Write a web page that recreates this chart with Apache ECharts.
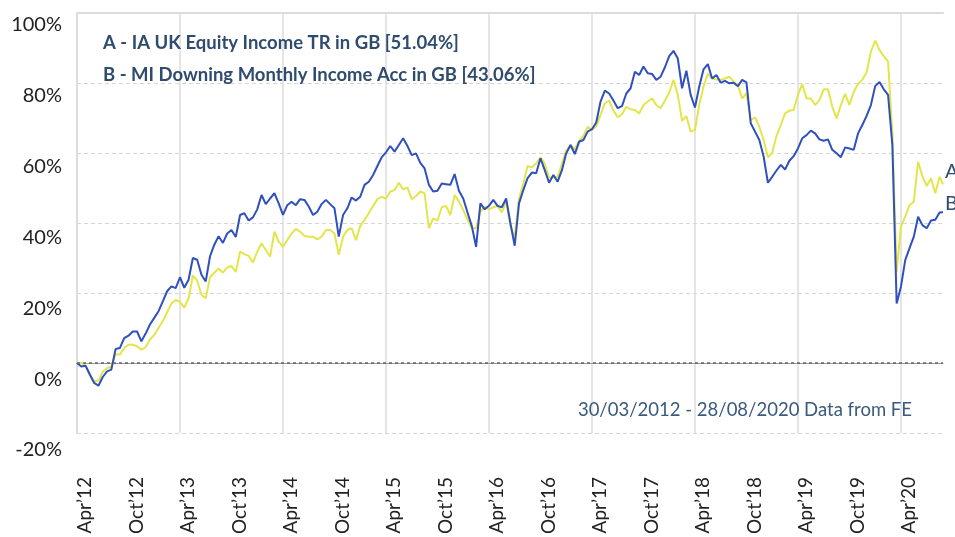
<!DOCTYPE html>
<html>
<head>
<meta charset="utf-8">
<style>
  html, body { margin: 0; padding: 0; background: #fff; }
  #chart { width: 955px; height: 537px; }
</style>
<script src="https://cdn.jsdelivr.net/npm/echarts@6/dist/echarts.min.js"></script>
</head>
<body>
<div id="chart"></div>
<script>
var seriesNames = ['A - IA UK Equity Income TR in GB [51.04%]', 'B - MI Downing Monthly Income Acc in GB [43.06%]'];
var xTickLabels = ['Apr\u201912', 'Oct\u201912', 'Apr\u201913', 'Oct\u201913', 'Apr\u201914', 'Oct\u201914', 'Apr\u201915', 'Oct\u201915',
    'Apr\u201916', 'Oct\u201916', 'Apr\u201917', 'Oct\u201917', 'Apr\u201918', 'Oct\u201918', 'Apr\u201919', 'Oct\u201919', 'Apr\u201920'];

// fund A (yellow) and fund B (blue), % growth, read every half month from 30/03/2012, last point 28/08/2020
var valuesA = [
    0, 0, -0.8, -3.5, -5.2, -5.0, -2.5, -1.5, -1.0, 2.5, 2.4, 4.3, 5.2, 5.2, 4.8, 3.8, 4.5, 6.7, 8.0, 10.0,
    12.0, 14.5, 17.0, 18.0, 17.5, 15.8, 18.5, 25.0, 23.5, 19.5, 18.5, 24.5, 25.8, 27.0, 25.8, 27.3, 27.7, 26.0, 31.8, 31.1,
    30.6, 28.7, 31.8, 34.2, 32.3, 30.4, 37.5, 34.7, 33.2, 35.1, 37.0, 38.3, 37.5, 36.3, 36.1, 36.1, 35.3, 36.1, 38.0, 38.0,
    37.0, 30.9, 36.1, 38.0, 38.5, 35.1, 39.1, 40.9, 42.8, 44.9, 46.8, 47.5, 47.0, 49.0, 49.4, 51.5, 49.6, 50.2, 46.8, 47.7,
    49.0, 48.5, 38.5, 41.3, 40.7, 44.5, 44.9, 42.3, 48.0, 46.1, 43.7, 41.0, 38.5, 38.5, 43.2, 44.7, 43.9, 44.5, 44.9, 43.0,
    46.1, 39.0, 36.0, 47.0, 51.3, 56.3, 55.9, 57.0, 58.8, 56.9, 53.0, 53.0, 53.2, 57.0, 60.7, 62.3, 61.0, 63.5, 64.9, 67.5,
    66.6, 67.7, 70.9, 74.2, 75.0, 72.1, 70.2, 71.1, 73.2, 72.5, 72.3, 71.3, 73.7, 74.7, 75.6, 73.7, 72.8, 75.0, 77.2, 80.9,
    76.6, 69.2, 70.6, 66.1, 66.6, 73.7, 79.0, 82.6, 81.3, 81.0, 80.9, 81.3, 81.8, 80.4, 79.4, 75.6, 77.0, 69.4, 70.2, 67.5,
    63.7, 58.8, 60.1, 64.9, 68.0, 71.3, 72.1, 72.3, 76.6, 79.7, 75.6, 75.6, 73.7, 75.1, 78.2, 78.2, 73.2, 69.9, 73.7, 76.9,
    73.7, 77.5, 79.7, 80.9, 83.0, 89.0, 92.1, 89.4, 87.7, 86.1, 65.6, 26.0, 39.0, 41.8, 45.1, 46.1, 57.5, 53.4, 50.6, 52.8,
    48.5, 53.2, 51.04
];
var valuesB = [
    0, -1.0, -0.8, -3.3, -5.7, -6.5, -4.0, -2.4, -1.9, 4.0, 4.3, 7.1, 7.8, 9.0, 9.0, 6.2, 8.4, 11.0, 12.9, 14.8,
    17.6, 20.5, 21.9, 21.4, 24.5, 21.5, 23.8, 30.0, 29.5, 25.2, 23.3, 30.5, 33.8, 36.2, 34.3, 37.0, 38.0, 36.0, 42.3, 42.8,
    40.7, 41.6, 43.9, 48.0, 45.4, 47.0, 48.5, 45.6, 42.3, 45.1, 46.1, 45.1, 46.8, 46.6, 44.7, 42.3, 43.2, 45.4, 46.6, 45.4,
    44.2, 36.1, 42.3, 44.2, 47.3, 46.4, 47.5, 50.9, 51.8, 53.7, 56.3, 58.8, 60.2, 62.0, 60.4, 62.3, 64.2, 62.0, 59.4, 59.9,
    57.2, 55.6, 50.9, 49.0, 49.2, 51.3, 51.1, 50.9, 54.0, 49.2, 47.0, 43.0, 39.1, 33.2, 45.6, 43.9, 44.9, 46.6, 44.9, 44.5,
    47.0, 39.9, 33.5, 45.6, 49.4, 52.8, 54.4, 54.2, 58.5, 55.1, 51.5, 53.7, 51.8, 55.1, 59.9, 62.3, 59.7, 63.2, 63.7, 66.1,
    66.8, 68.7, 74.7, 77.8, 77.0, 75.0, 72.8, 73.4, 77.0, 78.5, 83.2, 82.3, 84.7, 82.8, 82.6, 80.9, 81.8, 84.5, 87.7, 89.2,
    87.0, 78.5, 83.5, 76.6, 73.0, 79.0, 83.9, 85.4, 81.3, 82.3, 80.1, 80.6, 79.9, 80.1, 79.1, 80.9, 80.2, 68.5, 66.1, 63.7,
    59.0, 51.5, 53.2, 55.0, 56.6, 55.3, 57.8, 59.1, 61.3, 64.2, 65.1, 66.4, 65.6, 63.9, 63.5, 63.9, 60.9, 59.9, 58.8, 61.6,
    61.3, 60.9, 65.6, 68.0, 70.6, 73.7, 79.1, 80.3, 78.2, 76.6, 62.3, 17.0, 21.8, 29.4, 32.8, 36.1, 41.8, 39.4, 38.5, 40.7,
    40.9, 43.0, 43.06
];

// months since Apr 2012: half-month steps, final point is 28/08/2020
var months = [];
for (var i = 0; i < valuesA.length - 1; i++) {
    months.push(i * 0.5);
}
months.push(100.9);

function pairs(vals) {
    return vals.map(function (v, i) { return [months[i], v]; });
}

var font = 'Lato';
var chart = echarts.init(document.getElementById('chart'));
var option = {
    animation: false,
    tooltip: { trigger: 'axis' },
    title: {
        text: '30/03/2012 - 28/08/2020 Data from FE',
        right: 43,
        top: 401,
        padding: 0,
        textStyle: { fontSize: 18.5, fontWeight: 'normal', color: '#3b5a7c', fontFamily: font }
    },
    legend: {
        orient: 'vertical',
        left: 98,
        top: 33,
        padding: 0,
        icon: 'none',
        itemWidth: 0,
        itemHeight: 21,
        itemGap: 12,
        data: seriesNames,
        textStyle: { color: '#2f4b6e', fontWeight: 'bold', fontSize: 18.5, fontFamily: font }
    },
    grid: [
        { left: 77, right: 12, top: 13, bottom: 104 },
        { left: 85, right: 4, top: 25, bottom: 83 }
    ],
    xAxis: [
        {
            gridIndex: 0, type: 'value', min: 0, max: 100.9, interval: 12,
            axisLine: { lineStyle: { color: '#999', width: 1 } },
            axisTick: { show: false },
            axisLabel: { show: false },
            splitLine: { show: true, showMaxLine: false, lineStyle: { color: '#dcdcdc', width: 1.5 } }
        },
        {
            gridIndex: 0, type: 'value', position: 'top', min: 0, max: 100.9,
            axisLine: { show: true, lineStyle: { color: '#dcdcdc', width: 2 } },
            axisTick: { show: false },
            axisLabel: { show: false },
            splitLine: { show: false }
        },
        {
            gridIndex: 1, type: 'value', min: 0, max: 100.9, interval: 6,
            axisLine: { show: false },
            axisTick: { show: false },
            splitLine: { show: false },
            axisLabel: {
                rotate: 90, margin: 27, fontSize: 19, color: '#222', fontFamily: font,
                showMaxLabel: false,
                formatter: function (v) {
                    var k = v / 6;
                    return k === Math.round(k) && xTickLabels[k] ? xTickLabels[k] : '';
                }
            }
        }
    ],
    yAxis: [
        {
            gridIndex: 0, type: 'value', min: -20, max: 100, interval: 20,
            axisLine: { show: true, lineStyle: { color: '#dcdcdc', width: 2 } },
            axisTick: { show: false },
            axisLabel: { show: false },
            splitLine: { show: true, lineStyle: { color: '#d6d6d6', type: [4, 3] } }
        },
        {
            gridIndex: 1, type: 'value', min: -20, max: 100, interval: 20,
            axisLine: { show: false },
            axisTick: { show: false },
            splitLine: { show: false },
            axisLabel: { margin: 23, fontSize: 20, color: '#222', fontFamily: font, formatter: '{value}%' }
        }
    ],
    series: [
        {
            name: seriesNames[0],
            type: 'line',
            xAxisIndex: 0,
            yAxisIndex: 0,
            data: pairs(valuesA),
            showSymbol: false,
            z: 2,
            lineStyle: { color: '#e3e64a', width: 2 },
            itemStyle: { color: '#e3e64a' },
            endLabel: { show: true, formatter: 'A', distance: 2, color: '#2f4b6e', fontSize: 20, fontFamily: font, offset: [0, -13] },
            markLine: {
                silent: true,
                symbol: 'none',
                label: { show: false },
                lineStyle: { color: '#666', type: [3, 3], width: 1.5 },
                data: [{ yAxis: 0 }]
            }
        },
        {
            name: seriesNames[1],
            type: 'line',
            xAxisIndex: 0,
            yAxisIndex: 0,
            data: pairs(valuesB),
            showSymbol: false,
            z: 3,
            lineStyle: { color: '#2f50bd', width: 2 },
            itemStyle: { color: '#2f50bd' },
            endLabel: { show: true, formatter: 'B', distance: 2, color: '#2f4b6e', fontSize: 20, fontFamily: font, offset: [0, -9] }
        }
    ]
};
chart.setOption(option);
</script>
</body>
</html>
